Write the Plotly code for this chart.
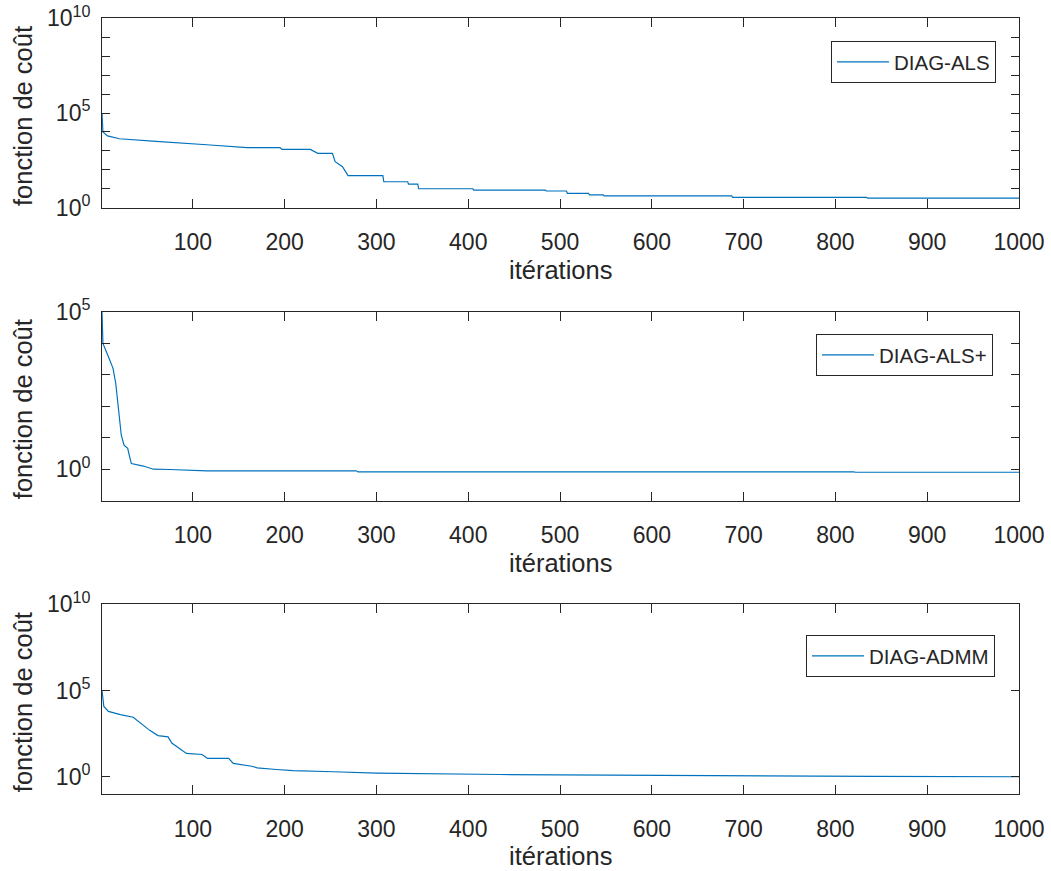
import math
import plotly.graph_objects as go

# ---- data ----
als_iter = [1, 2, 7, 20, 60, 97, 119, 159, 195, 197, 228, 236, 252, 255, 263, 269, 307, 308,
            334, 335, 345, 346, 405, 406, 484, 485, 507, 508, 531, 532, 547, 548, 687, 688,
            834, 835, 1000]
als_cost = [1e5, 1.0e4, 6170, 4370, 3160, 2510, 2040, 1480, 1480, 1200, 1200, 741, 741, 269,
            145, 49, 49, 23.4, 23.4, 17.4, 17.4, 10.0, 10.0, 8.5, 8.5, 7.6, 7.6, 5.75, 5.75,
            4.7, 4.7, 4.2, 4.2, 3.55, 3.55, 3.2, 3.2]

alsp_iter = [1, 2, 8, 13, 16, 19, 22, 25, 29, 31, 33, 46, 57, 75, 115, 278, 280, 820, 822, 1000]
alsp_cost = [1e5, 9800, 3715, 1585, 525, 95, 12.0, 5.75, 4.6, 2.57, 1.51, 1.26, 1.0, 0.98,
             0.89, 0.89, 0.82, 0.82, 0.80, 0.80]

admm_iter = [1, 3, 8, 21, 35, 42, 53, 62, 73, 77, 86, 93, 110, 116, 139, 144, 164, 170, 191,
             209, 253, 300, 434, 641, 841, 1000]
admm_cost = [1e5, 12000, 6170, 3980, 2820, 1445, 490, 245, 204, 91, 42, 22.4, 19.5, 11.5,
             11.5, 5.9, 4.07, 3.3, 2.63, 2.24, 1.95, 1.62, 1.35, 1.15, 1.05, 1.0]

x_ticks = [100, 200, 300, 400, 500, 600, 700, 800, 900, 1000]
names = ["DIAG-ALS", "DIAG-ALS+", "DIAG-ADMM"]
x_label = "itérations"
y_label = "fonction de coût"

# ---- styling ----
LINE = "#0072BD"
AX = "#262626"
FONT = "Liberation Sans, Arial, Helvetica, sans-serif"
W, H = 1051, 871
ML, MR, MT, MB = 102, 32, 18, 77
ph = H - MT - MB
pw = W - ML - MR


def fy(px):
    return (H - MB - px) / ph


def fx(px):
    return (px - ML) / pw


panel_px = [(18.3, 207.7), (311.7, 500.7), (604.3, 794.0)]
domains = [[fy(b), min(1.0, fy(t))] for t, b in panel_px]
yranges = [[0, 10], [-1, 5], [-1, 10]]
ytick_sets = [
    ([10 ** k for k in range(0, 11)], {0: "10<sup>0</sup>", 5: "10<sup>5</sup>", 10: "10<sup>10</sup>"}),
    ([10 ** k for k in range(-1, 6)], {0: "10<sup>0</sup>", 5: "10<sup>5</sup>"}),
    ([1, 1e5, 1e10], {0: "10<sup>0</sup>", 5: "10<sup>5</sup>", 10: "10<sup>10</sup>"}),
]
legend_px = [(996, 41), (993, 334), (995, 635)]

fig = go.Figure()
series = [(als_iter, als_cost), (alsp_iter, alsp_cost), (admm_iter, admm_cost)]

layout = dict(
    width=W, height=H,
    margin=dict(l=ML, r=MR, t=MT, b=MB, autoexpand=False),
    paper_bgcolor="white", plot_bgcolor="white",
    font=dict(family=FONT, color=AX, size=22),
    showlegend=True,
)
annotations = []

for i, (xs, ys) in enumerate(series):
    n = "" if i == 0 else str(i + 1)
    leg = "legend" + n
    fig.add_trace(go.Scatter(x=xs, y=ys, mode="lines", name=names[i],
                             line=dict(color=LINE, width=1.2),
                             xaxis="x" + n, yaxis="y" + n, legend=leg))
    tv, labels = ytick_sets[i]
    tt = [labels.get(round(math.log10(v)), "") for v in tv]
    layout["xaxis" + n] = dict(
        domain=[0, 1], anchor="y" + n, range=[1, 1000], automargin=False,
        tickvals=x_ticks, ticks="inside", ticklen=9, tickcolor=AX, tickwidth=1,
        showline=True, linecolor=AX, linewidth=1, mirror="ticks",
        showgrid=False, zeroline=False,
        tickfont=dict(size=23, color=AX, family=FONT),
        ticklabelstandoff=14,
    )
    layout["yaxis" + n] = dict(
        domain=domains[i], anchor="x" + n, type="log", range=yranges[i], automargin=False,
        tickvals=tv, ticktext=tt, ticks="inside", ticklen=8, tickcolor=AX, tickwidth=1,
        showline=True, linecolor=AX, linewidth=1, mirror="ticks",
        showgrid=False, zeroline=False,
        tickfont=dict(size=23, color=AX, family=FONT),
        ticklabelstandoff=6,
    )
    top, bot = panel_px[i]
    annotations.append(dict(
        text=x_label, xref="paper", yref="paper", x=fx((102 + 1019) / 2), y=fy(bot + 62),
        xanchor="center", yanchor="middle", showarrow=False,
        font=dict(size=25.5, color=AX, family=FONT)))
    annotations.append(dict(
        text=y_label, xref="paper", yref="paper", x=fx(23), y=fy((top + bot) / 2 + 3),
        xanchor="center", yanchor="middle", showarrow=False, textangle=-90,
        font=dict(size=25.5, color=AX, family=FONT)))
    lxp, lyp = legend_px[i]
    layout[leg] = dict(
        x=fx(lxp), y=fy(lyp), xanchor="right", yanchor="top",
        bgcolor="white", bordercolor=AX, borderwidth=1, itemwidth=52,
        font=dict(size=20.5, color=AX, family=FONT),
    )

layout["annotations"] = annotations
fig.update_layout(**layout)
fig.write_html("out.html", config={"displayModeBar": False},
               post_script="document.body.style.margin='0';document.body.style.overflow='hidden';")
